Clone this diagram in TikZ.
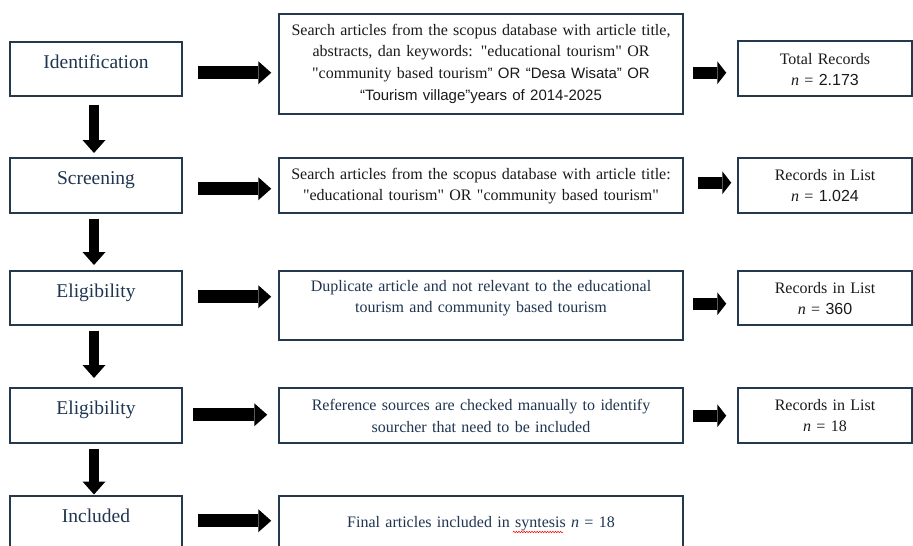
\documentclass[tikz,border=0pt]{standalone}
\usepackage{fontspec}
\newfontfamily\serif{Liberation Serif}
\newfontfamily\sansf{Liberation Sans}
\usetikzlibrary{arrows.meta,calc,decorations.pathmorphing}
\definecolor{navy}{HTML}{24394D}
\definecolor{navytext}{HTML}{1F3550}
\definecolor{ink}{HTML}{1A1A1A}
\tikzset{
  box/.style={draw=navy, line width=1.5pt, inner xsep=0pt, inner ysep=0pt, align=center, anchor=north},
  stage/.style={box, minimum width=172pt, text width=172pt, font=\serif\fontsize{19.5}{22}\selectfont, text=navytext, text height=26.5pt},
  mid/.style={box, minimum width=404pt, text width=404pt, font=\serif\fontsize{16}{21.7}\selectfont},
  res/.style={box, minimum width=174pt, text width=174pt, font=\serif\fontsize{16}{21}\selectfont, text=ink},
  bigh/.style={line width=13pt, -{Triangle[length=13pt,width=23pt,line width=0pt]}},
  bigv/.style={line width=10pt, -{Triangle[length=13pt,width=23pt,line width=0pt]}},
  smallh/.style={line width=11.5pt, -{Triangle[length=9pt,width=23pt,line width=0pt]}},
  squiggle/.style={draw=red, line width=0.5pt, decorate, decoration={snake, amplitude=0.8pt, segment length=2.6pt}}
}
\begin{document}
\begin{tikzpicture}[x=1pt,y=-1pt]
\useasboundingbox (0,0) rectangle (913,546);
\fill[white] (0,0) rectangle (913,546);
\clip (0,0) rectangle (913,546);

% left column
\node[stage, text depth=27.5pt] (L1) at (96,41) {Identification};
\node[stage, text depth=28.5pt] (L2) at (96,157) {Screening};
\node[stage, text depth=27.5pt] (L3) at (96,270) {Eligibility};
\node[stage, text depth=28.5pt] (L4) at (96,387) {Eligibility};
\node[stage, text depth=34.5pt] (L5) at (96,495) {Included};

% middle column
\node[mid, text=ink, text height=21.5pt, text depth=78.5pt] (M1) at (481,13)
  {Search articles from the scopus database with article title,\\
   abstracts, dan keywords: "educational tourism" OR\\
   "community based tourism{\sansf\fontsize{15}{21.7}\selectfont” OR “Desa Wisata” OR}\\
   {\sansf\fontsize{15}{21.7}\selectfont “Tourism village”years of 2014-2025}};
\node[mid, text=ink, text height=21.5pt, text depth=33.5pt] (M2) at (481,157)
  {Search articles from the scopus database with article title:\\
   "educational tourism" OR "community based tourism"};
\node[mid, text=navytext, text height=20.5pt, text depth=48.5pt] (M3) at (481,270)
  {Duplicate article and not relevant to the educational\\
   tourism and community based tourism};
\node[mid, text=navytext, text height=23pt, text depth=32pt] (M4) at (481,387)
  {Reference sources are checked manually to identify\\
   sourcher that need to be included};
\node[mid, text=navytext, text height=31.7pt, text depth=29.3pt] (M5) at (481,495)
  {Final articles included in syntesis {\itshape n} = 18};
\draw[squiggle] ($(M5.north)+(32,37)$) -- ($(M5.north)+(82,37)$);

% right column
\node[res, text height=23.3pt, text depth=31.7pt] (R1) at (825,40)
  {Total Records\\ {\itshape n} = {\sansf 2.173}};
\node[res, text height=23pt, text depth=32pt] (R2) at (825,157)
  {Records in List\\ {\itshape n} = {\sansf 1.024}};
\node[res, text height=22.3pt, text depth=31.7pt] (R3) at (825,270)
  {Records in List\\ {\itshape n} = {\sansf 360}};
\node[res, text height=22.3pt, text depth=32.7pt] (R4) at (825,387)
  {Records in List\\ {\itshape n} = 18};

% vertical arrows
\draw[bigv, shorten <=8pt, shorten >=4pt] ([xshift=-2pt]L1.south) -- ([xshift=-2pt]L2.north);
\draw[bigv, shorten <=5pt, shorten >=5pt] ([xshift=-2pt]L2.south) -- ([xshift=-2pt]L3.north);
\draw[bigv, shorten <=5pt, shorten >=9pt] ([xshift=-2pt]L3.south) -- ([xshift=-2pt]L4.north);
\draw[bigv, shorten <=5pt, shorten >=0.5pt] ([xshift=-2pt]L4.south) -- ([xshift=-2pt]L5.north);

% left -> middle arrows
\coordinate (a1) at ([yshift=-4pt]L1.east);
\coordinate (a2) at ([yshift=-3.5pt]L2.east);
\coordinate (a3) at ([yshift=1pt]L3.east);
\coordinate (a4) at ([yshift=0.5pt]L4.east);
\coordinate (a5) at ([yshift=5.5pt]L5.east);
\draw[bigh, shorten <=15pt, shorten >=7pt] (a1) -- (a1 -| M1.west);
\draw[bigh, shorten <=15pt, shorten >=7pt] (a2) -- (a2 -| M2.west);
\draw[bigh, shorten <=15pt, shorten >=7pt] (a3) -- (a3 -| M3.west);
\draw[bigh, shorten <=10pt, shorten >=11pt] (a4) -- (a4 -| M4.west);
\draw[bigh, shorten <=15pt, shorten >=7pt] (a5) -- (a5 -| M5.west);

% middle -> right arrows
\coordinate (b1) at ([yshift=-4.5pt]R1.west);
\coordinate (b2) at ([yshift=2.5pt]R2.west);
\coordinate (b3) at ([yshift=-6pt]R3.west);
\coordinate (b4) at ([yshift=-0.5pt]R4.west);
\draw[smallh, shorten <=9pt, shorten >=11pt] (b1 -| M1.east) -- (b1);
\draw[smallh, shorten <=14pt, shorten >=6pt] (b2 -| M2.east) -- (b2);
\draw[smallh, shorten <=9pt, shorten >=11pt] (b3 -| M3.east) -- (b3);
\draw[smallh, shorten <=9pt, shorten >=11pt] (b4 -| M4.east) -- (b4);
\end{tikzpicture}
\end{document}
